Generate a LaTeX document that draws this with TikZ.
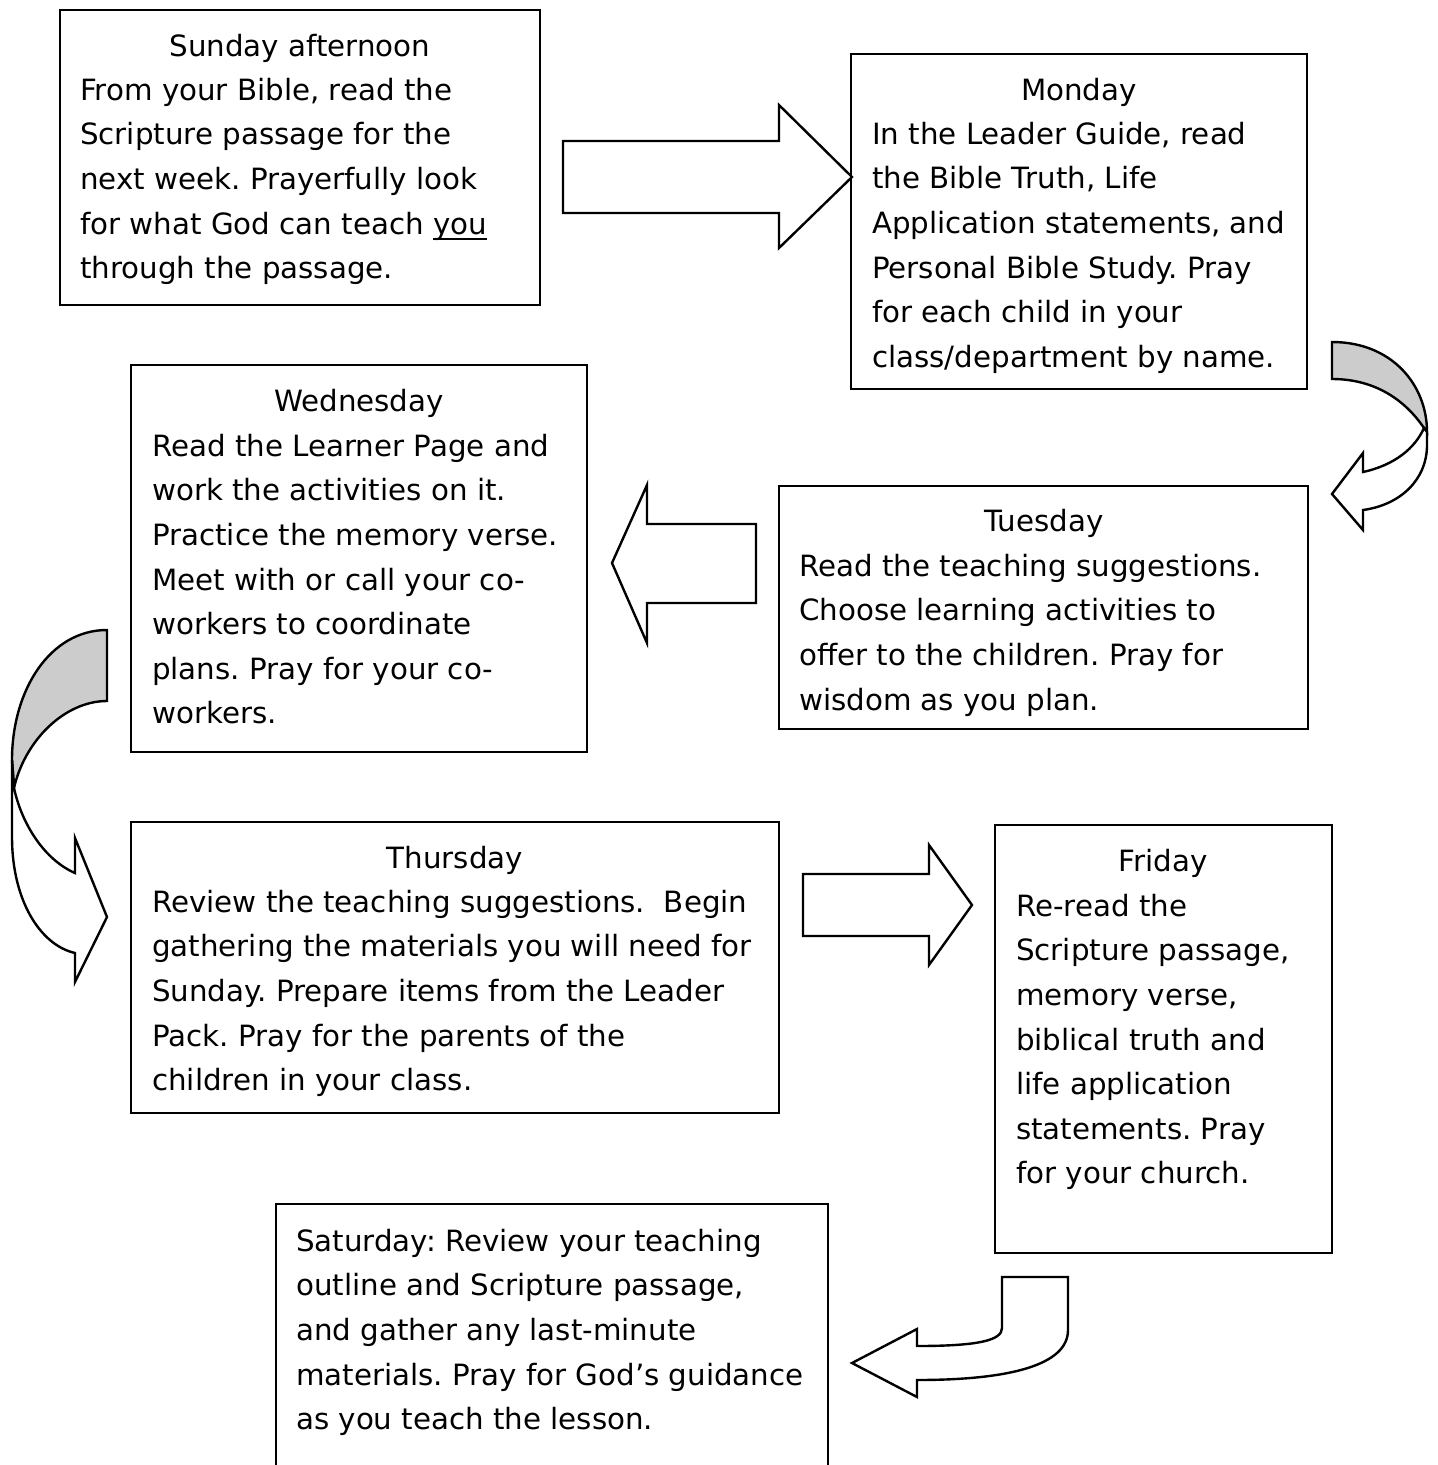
\documentclass[tikz,border=0pt]{standalone}
\usepackage{fontspec}
\setmainfont{DejaVu Sans}
\newcommand\ulword[1]{\setbox0\hbox{#1}\rlap{\rule[-6pt]{\wd0}{2pt}}#1}
\begin{document}
\frenchspacing
\begin{tikzpicture}[x=1pt,y=-1pt,
  box/.style={draw,line width=2.4pt,inner sep=0pt},
  body/.style={anchor=north west,align=left,inner sep=0pt,font=\fontsize{29.3}{44.6}\selectfont},
  ttl/.style={anchor=base,inner sep=0pt,font=\fontsize{29.3}{44.6}\selectfont},
  blk/.style={draw,line width=2.4pt,line join=miter,fill=white},
  shade/.style={draw,line width=2.4pt,fill=black!20}]
\useasboundingbox (0,0) rectangle (1438,1465);
% boxes
\draw[box] (60,10) rectangle (540,305);
\draw[box] (851,54) rectangle (1307,389);
\draw[box] (779,486) rectangle (1308,729);
\draw[box] (131,365) rectangle (587,752);
\draw[box] (131,822) rectangle (779,1113);
\draw[box] (995,825) rectangle (1332,1253);
\draw[box] (276,1204) rectangle (828,1475);
% texts
\node[ttl] (t1) at (300,56) {Sunday afternoon};
\node[body] (b1) at (80,68.8) {\strut From your Bible, read the\\Scripture passage for the\\next week. Prayerfully look\\for what God can teach \ulword{you}\\through the passage.};
\node[ttl] (t2) at (1079,100) {Monday};
\node[body] (b2) at (872,112.8) {\strut In the Leader Guide, read\\the Bible Truth, Life\\Application statements, and\\Personal Bible Study. Pray\\for each child in your\\class/department by name.};
\node[ttl] (t3) at (1044,531) {Tuesday};
\node[body] (b3) at (799,544.8) {\strut Read the teaching suggestions.\\Choose learning activities to\\offer to the children. Pray for\\wisdom as you plan.};
\node[ttl] (t4) at (359,411) {Wednesday};
\node[body] (b4) at (152,424.8) {\strut Read the Learner Page and\\work the activities on it.\\Practice the memory verse.\\Meet with or call your co-\\workers to coordinate\\plans. Pray for your co-\\workers.};
\node[ttl] (t5) at (455,868) {Thursday};
\node[body] (b5) at (152,880.8) {\strut Review the teaching suggestions.\ \ Begin\\gathering the materials you will need for\\Sunday. Prepare items from the Leader\\Pack. Pray for the parents of the\\children in your class.};
\node[ttl] (t6) at (1163,871) {Friday};
\node[body] (b6) at (1016,884.8) {\strut Re-read the\\Scripture passage,\\memory verse,\\biblical truth and\\life application\\statements. Pray\\for your church.};
\node[body] (b7) at (296,1219.8) {\strut Saturday: Review your teaching\\outline and Scripture passage,\\and gather any last-minute\\materials. Pray for God’s guidance\\as you teach the lesson.};
% straight block arrows
\draw[blk] (563,141) -- (779,141) -- (779,105) -- (852,177) -- (779,248) -- (779,213) -- (563,213) -- cycle;
\draw[blk] (756,524) -- (647,524) -- (647,485) -- (612,563) -- (647,643) -- (647,603) -- (756,603) -- cycle;
\draw[blk] (803,874) -- (929,874) -- (929,845) -- (972,905) -- (929,965) -- (929,936) -- (803,936) -- cycle;
% curved arrow Monday -> Tuesday
\draw[shade] (1332,342) .. controls (1392,342) and (1427,385) .. (1427,432)
  -- (1424,428) .. controls (1405,400) and (1375,379) .. (1332,379) -- cycle;
\draw[blk] (1427,432) -- (1427,445) .. controls (1427,480) and (1400,505) .. (1363,510) -- (1363,530) -- (1332,494) -- (1363,453) -- (1363,472)
  .. controls (1395,465) and (1415,448) .. (1424,428) -- cycle;
% curved arrow Wednesday -> Thursday
\draw[shade] (107,630) .. controls (50,630) and (12,690) .. (12,760)
  -- (14,788) .. controls (25,740) and (65,701) .. (107,701) -- cycle;
\draw[blk] (12,760) -- (12,837) .. controls (12,900) and (40,945) .. (75,953) -- (75,982) -- (107,917) -- (75,838) -- (75,873)
  .. controls (45,860) and (22,825) .. (14,788) -- cycle;
% curved arrow Friday -> Saturday
\draw[blk] (1002,1277) -- (1068,1277) -- (1068,1330) .. controls (1068,1365) and (1010,1380) .. (917,1380) -- (917,1397) -- (852,1363) -- (917,1329) -- (917,1346)
  .. controls (980,1346) and (1002,1340) .. (1002,1328) -- cycle;
\end{tikzpicture}
\end{document}
